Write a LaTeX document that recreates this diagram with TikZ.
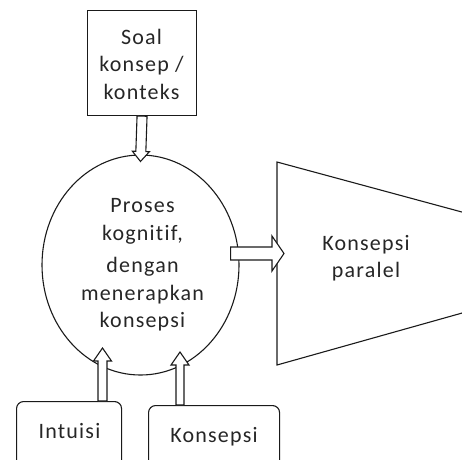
\documentclass[tikz,border=0pt]{standalone}
\usepackage{fontspec}
\setmainfont[LetterSpace=5.5,Ligatures=NoCommon]{Carlito}
\usetikzlibrary{shapes.geometric,calc}
\definecolor{ink}{HTML}{1A1A1A}
\definecolor{txt}{HTML}{262626}
\tikzset{
  shapeline/.style={draw=ink, line width=1.1pt},
  lbl/.style={text=txt, font=\fontsize{22}{27.5}\selectfont, align=center, inner sep=0pt},
  blk/.style={draw=ink, line width=1.1pt, fill=white, line join=miter},
}
\newcommand\blockarrow[5]{%
  \coordinate (bas) at (#1);
  \coordinate (bae) at (#2);
  \coordinate (bah) at ($(bae)!#5!(bas)$);
  \draw[blk] ($(bas)!#3!90:(bae)$) -- ($(bah)!#3!-90:(bas)$) -- ($(bah)!#4!-90:(bas)$)
    -- (bae) -- ($(bah)!#4!90:(bas)$) -- ($(bah)!#3!90:(bas)$) -- ($(bas)!#3!-90:(bae)$) -- cycle;
}
\begin{document}
\begin{tikzpicture}[x=1pt,y=-1pt]
\useasboundingbox (0,0) rectangle (462,459);
\clip (0,0) rectangle (462,459);
% top box
\node[shapeline, minimum width=109, minimum height=105, inner sep=0, anchor=north west] (soal) at (87,10) {};
\node[lbl] (soalt) at (141.5,64) {Soal\\konsep /\\konteks};
% ellipse
\node[shapeline, ellipse, minimum width=197, minimum height=220, inner sep=0] (proc) at (140.5,265) {};
\node[lbl] (proct) at (142.5,265) {Proses\\kognitif,\\[5pt]dengan\\menerapkan\\konsepsi};
% trapezoid
\draw[shapeline] (470,214.2) -- (277,162) -- (277,365) -- (470,310.8);
\coordinate (trapin) at (284,253.5);
\node[lbl] (par) at (366,258) {Konsepsi\\paralel};
% bottom boxes
\node[shapeline, rounded corners=7, minimum width=105, minimum height=90, inner sep=0, anchor=north west] (intu) at (16,401) {};
\node[lbl, anchor=base] (intut) at (69.5,438) {Intuisi};
\node[shapeline, rounded corners=7, minimum width=131, minimum height=90, inner sep=0, anchor=north west] (kons) at (148,405) {};
\node[lbl, anchor=base] (konst) at (214,442) {Konsepsi};
% block arrows
\coordinate (topend) at ($(proc.north)+(0,7)$);
\blockarrow{soal.south}{topend}{5pt}{8.5pt}{10pt}
\coordinate (rstart) at ($(proc.east)+(-9,-11.5)$);
\blockarrow{rstart}{trapin}{6.5pt}{17.5pt}{12pt}
\coordinate (ls) at ($(intu.north west)+(86.5,0)$);
\coordinate (le) at (102.5,348);
\blockarrow{ls}{le}{4.5pt}{9pt}{13pt}
\coordinate (rs) at ($(kons.north west)+(32,0)$);
\coordinate (re) at (180,352);
\blockarrow{rs}{re}{4pt}{9pt}{13pt}
\end{tikzpicture}
\end{document}
